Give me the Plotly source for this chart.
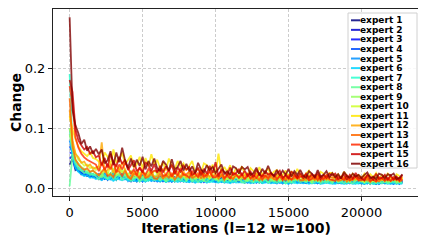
import plotly.graph_objects as go

iterations = [0, 200, 400, 600, 800, 1000, 1200, 1400, 1600, 1800,
              2000, 2200, 2400, 2600, 2800, 3000, 3200, 3400, 3600, 3800,
              4000, 4200, 4400, 4600, 4800, 5000, 5200, 5400, 5600, 5800,
              6000, 6200, 6400, 6600, 6800, 7000, 7200, 7400, 7600, 7800,
              8000, 8200, 8400, 8600, 8800, 9000, 9200, 9400, 9600, 9800,
              10000, 10200, 10400, 10600, 10800, 11000, 11200, 11400, 11600, 11800,
              12000, 12200, 12400, 12600, 12800, 13000, 13200, 13400, 13600, 13800,
              14000, 14200, 14400, 14600, 14800, 15000, 15200, 15400, 15600, 15800,
              16000, 16200, 16400, 16600, 16800, 17000, 17200, 17400, 17600, 17800,
              18000, 18200, 18400, 18600, 18800, 19000, 19200, 19400, 19600, 19800,
              20000, 20200, 20400, 20600, 20800, 21000, 21200, 21400, 21600, 21800,
              22000, 22200, 22400, 22600, 22800]

expert_names = ["expert 1", "expert 2", "expert 3", "expert 4", "expert 5", "expert 6",
                "expert 7", "expert 8", "expert 9", "expert 10", "expert 11", "expert 12",
                "expert 13", "expert 14", "expert 15", "expert 16"]
expert_colors = ["#000080", "#0000cd", "#0008ff", "#004dff", "#0091ff", "#00d4ff",
                 "#29ffce", "#60ff97", "#97ff60", "#ceff29", "#ffe600", "#ffa700",
                 "#ff6800", "#ff2900", "#cd0000", "#800000"]

e1 = [.040,.050,.031,.034,.024,.027,.021,.024,.019,.022,
      .016,.024,.017,.023,.018,.025,.015,.022,.018,.024,
      .020,.014,.018,.012,.021,.016,.013,.019,.015,.017,
      .014,.012,.019,.016,.012,.020,.013,.015,.019,.012,
      .016,.018,.012,.013,.017,.011,.017,.012,.019,.013,
      .012,.015,.018,.011,.013,.011,.017,.015,.011,.016,
      .010,.016,.011,.015,.012,.016,.010,.014,.011,.016,
      .015,.011,.014,.009,.016,.012,.010,.014,.011,.013,
      .011,.009,.014,.013,.010,.016,.010,.011,.014,.010,
      .013,.014,.009,.010,.014,.009,.013,.010,.015,.010,
      .009,.012,.014,.009,.010,.008,.013,.012,.009,.013,
      .009,.013,.009,.013,.010]
e2 = [.050,.055,.034,.029,.027,.022,.025,.020,.023,.019,
      .024,.017,.022,.015,.025,.019,.016,.023,.018,.021,
      .015,.012,.020,.017,.013,.021,.014,.016,.020,.013,
      .017,.019,.012,.014,.019,.012,.018,.013,.020,.014,
      .012,.016,.019,.012,.014,.011,.017,.016,.012,.017,
      .011,.017,.012,.016,.013,.018,.011,.015,.012,.017,
      .016,.011,.014,.010,.016,.012,.010,.015,.012,.014,
      .011,.009,.015,.013,.010,.016,.011,.012,.015,.010,
      .013,.015,.010,.011,.014,.009,.014,.010,.016,.011,
      .010,.013,.015,.009,.011,.009,.014,.013,.009,.013,
      .009,.013,.009,.013,.010,.014,.008,.012,.010,.013,
      .013,.009,.012,.008,.014]
e3 = [.060,.058,.036,.031,.025,.028,.022,.020,.024,.018,
      .018,.015,.024,.021,.016,.026,.017,.019,.024,.016,
      .018,.021,.013,.015,.020,.012,.019,.014,.021,.015,
      .013,.017,.020,.012,.015,.012,.019,.017,.012,.018,
      .012,.017,.012,.017,.013,.018,.011,.016,.013,.017,
      .017,.012,.015,.011,.018,.013,.011,.016,.013,.015,
      .012,.010,.016,.014,.010,.017,.011,.012,.016,.010,
      .014,.016,.010,.011,.015,.009,.014,.011,.016,.011,
      .010,.013,.016,.010,.011,.009,.014,.013,.010,.014,
      .009,.014,.010,.013,.010,.014,.009,.013,.010,.014,
      .013,.009,.012,.008,.014,.010,.009,.013,.010,.012,
      .010,.008,.013,.012,.009]
e4 = [.070,.060,.038,.033,.028,.025,.023,.026,.020,.022,
      .022,.025,.016,.018,.024,.015,.023,.017,.026,.018,
      .014,.018,.021,.013,.016,.012,.020,.018,.013,.019,
      .012,.019,.013,.018,.014,.019,.012,.017,.014,.019,
      .017,.012,.016,.011,.018,.014,.012,.017,.013,.015,
      .013,.011,.017,.015,.011,.018,.012,.013,.017,.011,
      .014,.016,.010,.012,.016,.010,.015,.011,.017,.012,
      .011,.014,.016,.010,.012,.009,.015,.014,.010,.014,
      .010,.014,.010,.014,.011,.015,.009,.013,.011,.014,
      .014,.010,.013,.009,.014,.011,.009,.013,.010,.012,
      .010,.008,.013,.012,.009,.014,.009,.010,.013,.009,
      .012,.014,.009,.010,.013]
e5 = [.080,.062,.040,.030,.032,.024,.027,.021,.024,.020,
      .017,.022,.026,.016,.019,.015,.024,.022,.016,.023,
      .013,.020,.014,.019,.015,.021,.012,.018,.015,.020,
      .019,.013,.017,.012,.019,.015,.012,.018,.014,.016,
      .013,.011,.017,.015,.012,.019,.012,.014,.017,.012,
      .015,.018,.011,.013,.017,.011,.016,.012,.018,.013,
      .011,.014,.017,.010,.012,.010,.016,.014,.010,.015,
      .010,.015,.011,.014,.011,.016,.009,.014,.011,.015,
      .014,.010,.013,.009,.015,.011,.010,.014,.011,.013,
      .010,.009,.014,.012,.009,.015,.010,.011,.014,.009,
      .012,.014,.009,.010,.013,.008,.013,.009,.014,.010,
      .009,.012,.014,.009,.010]
e6 = [.100,.052,.034,.028,.024,.021,.022,.018,.019,.016,
      .017,.014,.018,.015,.016,.013,.017,.015,.014,.016,
      .015,.013,.014,.012,.016,.013,.012,.015,.013,.014,
      .013,.012,.014,.011,.013,.012,.014,.011,.013,.012,
      .012,.011,.013,.010,.012,.011,.013,.010,.012,.011,
      .011,.010,.012,.010,.011,.009,.012,.010,.011,.010,
      .010,.011,.009,.011,.010,.012,.009,.010,.011,.009,
      .010,.009,.011,.009,.010,.008,.011,.010,.009,.010,
      .009,.010,.008,.010,.009,.010,.008,.009,.010,.009,
      .009,.008,.010,.009,.008,.009,.010,.008,.009,.009,
      .009,.008,.009,.010,.008,.009,.008,.010,.009,.008,
      .008,.009,.008,.009,.008]
e7 = [.190,.070,.044,.036,.030,.032,.025,.027,.022,.024,
      .021,.018,.023,.016,.019,.025,.015,.022,.017,.024,
      .015,.021,.014,.019,.012,.020,.015,.013,.021,.018,
      .019,.014,.017,.012,.019,.014,.018,.013,.019,.012,
      .012,.017,.014,.012,.019,.012,.015,.017,.011,.013,
      .016,.011,.015,.017,.011,.013,.011,.018,.015,.012,
      .014,.012,.015,.010,.012,.016,.010,.014,.011,.016,
      .011,.016,.011,.014,.009,.015,.011,.010,.016,.014,
      .014,.011,.013,.009,.015,.011,.014,.010,.014,.010,
      .009,.014,.011,.010,.015,.009,.012,.014,.009,.010,
      .013,.009,.012,.013,.008,.010,.009,.014,.012,.009,
      .012,.010,.013,.009,.010]
e8 = [.004,.058,.042,.033,.030,.026,.028,.023,.025,.021,
      .016,.024,.019,.017,.026,.016,.021,.024,.015,.018,
      .019,.013,.018,.020,.012,.016,.013,.021,.018,.014,
      .016,.014,.018,.012,.015,.019,.012,.017,.013,.019,
      .013,.019,.012,.017,.011,.017,.013,.012,.018,.016,
      .017,.012,.015,.011,.018,.013,.016,.012,.017,.011,
      .010,.016,.012,.011,.017,.010,.014,.016,.010,.012,
      .014,.010,.014,.015,.009,.012,.010,.016,.014,.011,
      .013,.011,.014,.010,.011,.015,.009,.013,.010,.014,
      .010,.015,.010,.013,.009,.014,.010,.009,.014,.013,
      .013,.010,.012,.008,.014,.010,.013,.009,.013,.009,
      .011,.013,.009,.012,.010]
e9 = [.090,.065,.048,.042,.036,.033,.031,.028,.030,.025,
      .023,.020,.031,.027,.021,.034,.022,.025,.031,.021,
      .024,.028,.018,.020,.026,.017,.025,.019,.029,.020,
      .024,.017,.022,.015,.025,.019,.016,.023,.018,.021,
      .015,.023,.016,.022,.017,.024,.014,.021,.017,.023,
      .015,.020,.023,.014,.017,.014,.022,.020,.014,.021,
      .015,.013,.020,.018,.014,.022,.014,.016,.020,.014,
      .018,.020,.013,.014,.019,.012,.018,.014,.021,.014,
      .018,.013,.017,.011,.019,.014,.012,.017,.014,.016,
      .012,.018,.013,.017,.014,.019,.011,.017,.013,.018,
      .012,.015,.018,.011,.013,.011,.017,.015,.011,.016,
      .015,.018,.011,.013,.017]
e10 = [.100,.075,.058,.048,.044,.038,.040,.034,.036,.031,
       .036,.026,.033,.023,.038,.029,.024,.035,.027,.032,
       .020,.030,.021,.029,.023,.031,.019,.028,.022,.030,
       .025,.029,.018,.021,.028,.017,.026,.020,.030,.021,
       .018,.023,.027,.017,.020,.016,.025,.023,.017,.024,
       .018,.015,.024,.021,.016,.026,.017,.019,.024,.016,
       .023,.016,.021,.014,.024,.018,.015,.022,.017,.020,
       .014,.022,.015,.021,.016,.023,.014,.020,.016,.022,
       .014,.019,.022,.014,.016,.013,.020,.019,.014,.020,
       .018,.020,.013,.014,.019,.012,.018,.014,.021,.014,
       .014,.011,.018,.016,.012,.020,.013,.014,.018,.012,
       .012,.018,.013,.017,.014]
e11 = [.120,.098,.082,.070,.062,.058,.054,.060,.051,.049,
       .045,.038,.060,.053,.040,.065,.043,.048,.060,.040,
       .048,.055,.035,.040,.053,.033,.051,.037,.057,.040,
       .048,.034,.044,.030,.050,.038,.032,.046,.036,.042,
       .030,.039,.046,.028,.033,.026,.042,.039,.028,.040,
       .025,.058,.026,.036,.028,.039,.023,.034,.027,.037,
       .025,.021,.034,.029,.022,.036,.024,.027,.034,.022,
       .028,.031,.020,.023,.030,.019,.029,.021,.033,.023,
       .020,.025,.030,.018,.022,.017,.028,.025,.018,.026,
       .026,.019,.024,.017,.028,.021,.018,.025,.020,.023,
       .017,.025,.018,.024,.019,.026,.016,.023,.018,.025,
       .018,.015,.024,.021,.016]
e12 = [.130,.080,.058,.052,.043,.045,.037,.040,.033,.035,
       .037,.077,.027,.031,.041,.026,.039,.029,.044,.031,
       .021,.018,.029,.025,.019,.031,.020,.023,.029,.019,
       .021,.028,.033,.020,.024,.019,.030,.028,.020,.029,
       .018,.028,.020,.026,.021,.029,.017,.025,.020,.028,
       .025,.018,.023,.016,.026,.020,.017,.024,.019,.022,
       .022,.025,.016,.018,.024,.015,.023,.017,.026,.018,
       .016,.021,.025,.015,.018,.014,.023,.021,.015,.022,
       .016,.014,.022,.019,.014,.023,.015,.017,.022,.014,
       .014,.020,.014,.020,.015,.021,.013,.019,.015,.020,
       .018,.020,.013,.014,.019,.012,.018,.014,.021,.014,
       .019,.014,.018,.012,.020]
e13 = [.150,.070,.048,.040,.035,.031,.034,.028,.030,.026,
       .022,.028,.034,.021,.024,.019,.030,.028,.021,.030,
       .019,.016,.025,.022,.017,.027,.018,.020,.025,.017,
       .016,.024,.017,.023,.018,.025,.015,.022,.018,.024,
       .024,.028,.018,.020,.026,.017,.025,.019,.029,.020,
       .024,.017,.022,.015,.025,.019,.016,.023,.018,.021,
       .016,.021,.025,.015,.018,.014,.023,.021,.015,.022,
       .016,.014,.022,.019,.014,.023,.015,.017,.022,.014,
       .014,.020,.014,.020,.015,.021,.013,.019,.015,.020,
       .018,.020,.013,.014,.019,.012,.018,.014,.021,.014,
       .018,.013,.017,.011,.019,.014,.012,.017,.014,.016,
       .013,.017,.020,.012,.014]
e14 = [.170,.140,.085,.068,.058,.052,.048,.045,.043,.040,
       .029,.043,.031,.041,.032,.045,.027,.040,.032,.043,
       .035,.025,.032,.022,.036,.028,.023,.033,.026,.030,
       .029,.033,.021,.023,.031,.020,.030,.022,.034,.023,
       .022,.018,.029,.025,.019,.031,.020,.023,.029,.019,
       .019,.024,.029,.018,.021,.017,.026,.024,.018,.025,
       .016,.024,.017,.023,.018,.025,.015,.022,.018,.024,
       .023,.016,.021,.014,.024,.018,.015,.022,.017,.020,
       .020,.023,.014,.016,.022,.014,.021,.015,.023,.016,
       .015,.013,.020,.018,.014,.022,.014,.016,.020,.014,
       .014,.018,.021,.013,.015,.012,.019,.018,.013,.018,
       .013,.019,.014,.018,.014]
e15 = [.180,.160,.098,.080,.072,.065,.069,.058,.062,.052,
       .055,.039,.051,.035,.058,.044,.037,.053,.041,.048,
       .031,.040,.047,.029,.034,.027,.043,.040,.029,.041,
       .026,.038,.027,.037,.029,.040,.024,.035,.028,.038,
       .032,.036,.023,.026,.035,.022,.033,.025,.038,.026,
       .044,.020,.032,.028,.022,.035,.023,.026,.032,.022,
       .030,.021,.028,.019,.031,.024,.020,.029,.023,.026,
       .020,.025,.030,.018,.022,.017,.028,.025,.018,.026,
       .017,.025,.018,.024,.019,.026,.016,.023,.018,.025,
       .022,.025,.016,.018,.024,.015,.023,.017,.026,.018,
       .017,.014,.023,.020,.015,.025,.016,.018,.023,.015,
       .022,.015,.020,.014,.023]
e16 = [.284,.130,.105,.092,.074,.081,.063,.070,.058,.066,
       .057,.065,.042,.047,.062,.039,.060,.044,.068,.047,
       .034,.050,.036,.048,.038,.053,.032,.046,.037,.050,
       .034,.029,.046,.040,.030,.049,.032,.036,.046,.030,
       .041,.029,.037,.026,.043,.032,.027,.039,.031,.036,
       .026,.034,.040,.025,.029,.023,.037,.034,.025,.036,
       .032,.036,.023,.026,.035,.022,.033,.025,.038,.026,
       .021,.031,.022,.030,.023,.033,.020,.029,.023,.031,
       .022,.018,.029,.025,.019,.031,.020,.023,.029,.019,
       .026,.019,.024,.017,.028,.021,.018,.025,.020,.023,
       .018,.023,.027,.017,.020,.016,.025,.023,.017,.024,
       .022,.025,.016,.018,.024]

series = [e1, e2, e3, e4, e5, e6, e7, e8, e9, e10, e11, e12, e13, e14, e15, e16]

x_ticks = [0, 5000, 10000, 15000, 20000]
y_ticks = [0.0, 0.1, 0.2]


def rgba(hex_color, alpha):
    h = hex_color.lstrip("#")
    r, g, b = int(h[0:2], 16), int(h[2:4], 16), int(h[4:6], 16)
    return f"rgba({r},{g},{b},{alpha})"


# The page body has an 8px default margin, so the figure is sized to fill
# the remaining window and margins are expressed relative to it.
OFF = 8
WIN_W, WIN_H = 426, 240
PX0, PX1, PY0, PY1 = 53, 419, 9, 196          # plot area in window pixels
W, H = WIN_W - OFF, WIN_H - OFF
ML, MR, MT, MB = PX0 - OFF, WIN_W - PX1, PY0 - OFF, WIN_H - PY1
PW, PH = PX1 - PX0, PY1 - PY0

fig = go.Figure()
for name, color, ys in zip(expert_names, expert_colors, series):
    fig.add_trace(go.Scatter(x=iterations, y=ys, mode="lines", name=name,
                             line=dict(color=rgba(color, 0.8), width=1.8),
                             showlegend=False))


def px_x(px):
    return (px - PX0) / PW


def px_y(py):
    return (PY1 - py) / PH


# legend (manual, compact like the reference)
shapes = [dict(type="rect", xref="paper", yref="paper",
               x0=px_x(348), x1=px_x(417), y0=px_y(168), y1=px_y(13),
               line=dict(color="#d0d0d0", width=1),
               fillcolor="rgba(255,255,255,0.85)", layer="above")]
annotations = []
row_h = 9.56
for k, (name, color) in enumerate(zip(expert_names, expert_colors)):
    yc = 20.3 + k * row_h
    shapes.append(dict(type="line", xref="paper", yref="paper",
                       x0=px_x(351), x1=px_x(360), y0=px_y(yc), y1=px_y(yc),
                       line=dict(color=rgba(color, 0.85), width=2), layer="above"))
    annotations.append(dict(xref="paper", yref="paper", x=px_x(358.5), y=px_y(yc),
                            xanchor="left", yanchor="middle", text=name,
                            showarrow=False, borderpad=0,
                            font=dict(family="DejaVu Sans", size=9, color="black",
                                      weight="bold")))

axis_common = dict(showline=True, linecolor="#222222", linewidth=1, mirror=True,
                   ticks="outside", ticklen=4, tickwidth=1, tickcolor="#222222",
                   showgrid=True, gridcolor="#cccccc", gridwidth=0.8,
                   griddash="3px,2px", zeroline=False, automargin=False,
                   tickfont=dict(family="DejaVu Sans", size=13, color="black"))

fig.update_layout(
    width=W, height=H,
    margin=dict(l=ML, r=MR, t=MT, b=MB, pad=0),
    paper_bgcolor="white", plot_bgcolor="white",
    font=dict(family="DejaVu Sans", color="black"),
    shapes=shapes, annotations=annotations,
    xaxis=dict(range=[-1140, 23940], tickvals=x_ticks,
               ticktext=[str(v) for v in x_ticks],
               title=dict(text="Iterations (l=12 w=100)", standoff=3,
                          font=dict(family="DejaVu Sans", size=14, color="black",
                                    weight="bold")),
               **axis_common),
    yaxis=dict(range=[-0.0121, 0.2978], tickvals=y_ticks,
               ticktext=[f"{v:.1f}" for v in y_ticks],
               title=dict(text="Change", standoff=4,
                          font=dict(family="DejaVu Sans", size=14, color="black",
                                    weight="bold")),
               **axis_common),
)

fig.write_html("out.html")
